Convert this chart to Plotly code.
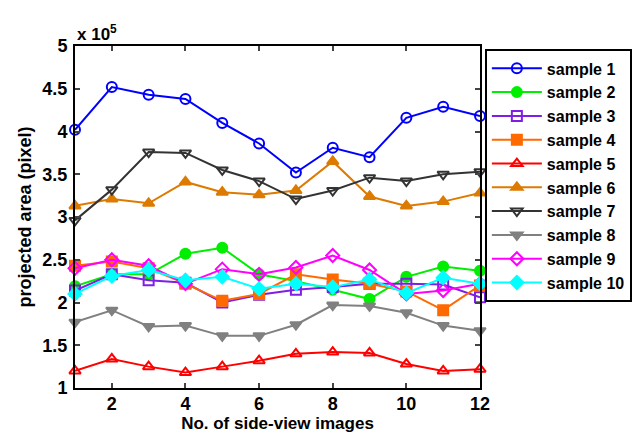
import plotly.graph_objects as go

x_images = list(range(1, 13))

sample1 = [4.02, 4.52, 4.43, 4.38, 4.10, 3.86, 3.52, 3.81, 3.70, 4.16, 4.29, 4.18]
sample2 = [2.19, 2.33, 2.33, 2.57, 2.64, 2.33, 2.25, 2.15, 2.04, 2.30, 2.42, 2.37]
sample3 = [2.14, 2.33, 2.26, 2.23, 2.00, 2.09, 2.15, 2.18, 2.22, 2.22, 2.21, 2.06]
sample4 = [2.43, 2.48, 2.40, 2.22, 2.02, 2.10, 2.33, 2.27, 2.22, 2.13, 1.91, 2.20]
sample5 = [1.20, 1.34, 1.25, 1.18, 1.25, 1.32, 1.40, 1.42, 1.41, 1.28, 1.20, 1.22]
sample6 = [3.13, 3.21, 3.16, 3.41, 3.29, 3.26, 3.31, 3.65, 3.24, 3.13, 3.18, 3.28]
sample7 = [2.96, 3.32, 3.76, 3.75, 3.55, 3.42, 3.21, 3.31, 3.46, 3.42, 3.50, 3.53]
sample8 = [1.77, 1.91, 1.72, 1.73, 1.61, 1.61, 1.74, 1.97, 1.96, 1.88, 1.73, 1.67]
sample9 = [2.40, 2.50, 2.43, 2.22, 2.39, 2.33, 2.41, 2.55, 2.38, 2.10, 2.14, 2.22]
sample10 = [2.10, 2.31, 2.38, 2.26, 2.30, 2.16, 2.22, 2.18, 2.27, 2.11, 2.29, 2.22]

names = ["sample 1", "sample 2", "sample 3", "sample 4", "sample 5",
         "sample 6", "sample 7", "sample 8", "sample 9", "sample 10"]
series = [sample1, sample2, sample3, sample4, sample5,
          sample6, sample7, sample8, sample9, sample10]
colors = ["#0000FF", "#00EE00", "#7F1FE6", "#FF6A00", "#FF0000",
          "#DD7A00", "#333333", "#808080", "#FF00FF", "#00FFFF"]
symbols = ["circle-open", "circle", "square-open", "square", "triangle-up-open",
           "triangle-up", "triangle-down-open", "triangle-down", "diamond-open", "diamond"]

y_ticks = [1, 1.5, 2, 2.5, 3, 3.5, 4, 4.5, 5]
y_ticktext = ["1", "1.5", "2", "2.5", "3", "3.5", "4", "4.5", "5"]
x_ticks = [2, 4, 6, 8, 10, 12]

FAM = "Liberation Sans, Arial, sans-serif"

fig = go.Figure()
for name, vals, col, sym in zip(names, series, colors, symbols):
    fig.add_trace(go.Scatter(
        x=x_images, y=vals, name=name, mode="lines+markers",
        line=dict(color=col, width=2),
        marker=dict(symbol=sym, size=10, color=col,
                    line=dict(color=col, width=2)),
        cliponaxis=False,
    ))

fig.update_layout(
    width=644, height=432,
    margin=dict(l=67, r=172, t=38, b=52),
    plot_bgcolor="white", paper_bgcolor="white",
    font=dict(family=FAM, size=16, color="black"),
    showlegend=True,
    legend=dict(
        x=1.012, y=0.99, xanchor="left", yanchor="top",
        bordercolor="black", borderwidth=2, bgcolor="white",
        font=dict(family=FAM, size=16, color="black", weight="bold"),
        tracegroupgap=0, itemwidth=50,
    ),
    xaxis=dict(
        range=[1, 12], tickvals=x_ticks, ticks="inside", ticklen=5, tickwidth=1.5,
        showline=True, linecolor="black", linewidth=2, mirror="ticks",
        showgrid=False, zeroline=False, ticklabelstandoff=-2,
        tickfont=dict(family=FAM, size=18, weight="bold", color="black"),
        title=dict(text="No. of side-view images",
                   font=dict(family=FAM, size=17, weight="bold", color="black"), standoff=0),
    ),
    yaxis=dict(
        range=[1, 5], tickvals=y_ticks, ticktext=y_ticktext, ticks="inside", ticklen=5, tickwidth=1.5,
        showline=True, linecolor="black", linewidth=2, mirror="ticks",
        showgrid=False, zeroline=False, ticklabelstandoff=2,
        tickfont=dict(family=FAM, size=18, weight="bold", color="black"),
        title=dict(text="projected area (pixel)",
                   font=dict(family=FAM, size=18, weight="bold", color="black"), standoff=6),
    ),
    annotations=[dict(
        text="x 10<sup>5</sup>", xref="paper", yref="paper", x=0.0, y=1.0,
        xanchor="left", yanchor="bottom", showarrow=False,
        font=dict(family=FAM, size=17, weight="bold", color="black"),
    )],
)

fig.write_html("out.html")
